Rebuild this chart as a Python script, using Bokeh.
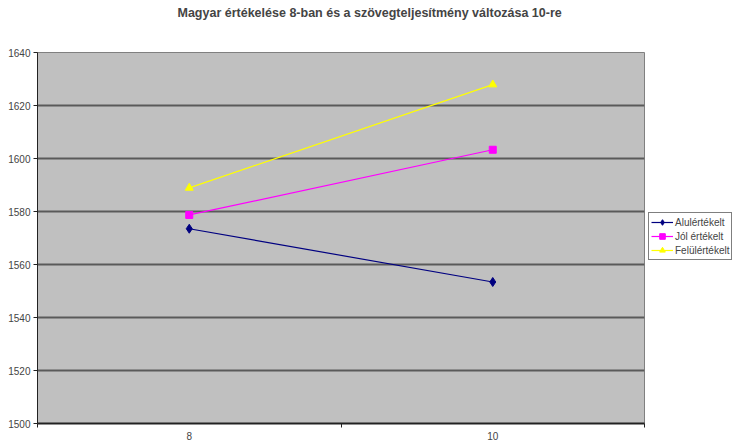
from bokeh.plotting import figure
from bokeh.models import FixedTicker, Legend, LegendItem, Range1d
from bokeh.embed import file_html
from bokeh.resources import INLINE

categories = ["8", "10"]
alul = [1573.5, 1553.4]
jol = [1578.7, 1603.3]
felul = [1588.9, 1627.9]
y_ticks = [1500, 1520, 1540, 1560, 1580, 1600, 1620, 1640]

xs = [i + 0.5 for i in range(len(categories))]

p = figure(frame_width=607, frame_height=371, output_backend="svg", toolbar_location=None,
           x_range=Range1d(0, len(categories)), y_range=Range1d(1500, 1640),
           min_border_left=37, min_border_right=0, min_border_top=52, min_border_bottom=18)
p.title.text = "Magyar értékelése 8-ban és a szövegteljesítmény változása 10-re\n\n"
p.title.align = "left"
p.title.text_font = "Liberation Sans"
p.title.text_font_size = "12.5px"
p.title.text_font_style = "bold"
p.title.text_line_height = 1.15
p.title.offset = 140
p.title.standoff = 0

p.background_fill_color = "#C0C0C0"
p.border_fill_color = "white"
p.outline_line_color = "#808080"
p.outline_line_width = 1

p.xgrid.visible = False
p.ygrid.ticker = FixedTicker(ticks=y_ticks)
p.ygrid.grid_line_color = "#5a5a5a"
p.ygrid.grid_line_width = 2

p.yaxis.ticker = FixedTicker(ticks=y_ticks)
p.yaxis.major_tick_out = 4
p.yaxis.major_tick_in = 0
p.yaxis.minor_tick_out = 0
p.yaxis.axis_line_color = "#222222"
p.yaxis.major_tick_line_color = "#222222"
p.yaxis.major_label_text_font = "Liberation Sans"
p.yaxis.major_label_text_font_size = "10px"
p.yaxis.major_label_standoff = 3

p.xaxis.ticker = FixedTicker(ticks=xs, minor_ticks=[0, 1, 2])
p.xaxis.major_label_overrides = {x: c for x, c in zip(xs, categories)}
p.xaxis.major_tick_out = 0
p.xaxis.major_tick_in = 0
p.xaxis.minor_tick_out = 4
p.xaxis.minor_tick_in = 0
p.xaxis.minor_tick_line_color = "#222222"
p.xaxis.axis_line_color = "#222222"
p.xaxis.axis_line_width = 2
p.xaxis.major_label_text_font = "Liberation Sans"
p.xaxis.major_label_text_font_size = "10px"
p.xaxis.major_label_standoff = 4

series = [
    ("Alulértékelt", alul, "#000080", "diamond", 9),
    ("Jól értékelt", jol, "#FF00FF", "square", 7),
    ("Felülértékelt", felul, "#FFFF00", "triangle", 8),
]
items = []
for name, vals, col, marker, size in series:
    l = p.line(xs, vals, line_color=col, line_width=1.2)
    s = p.scatter(xs, vals, marker=marker, size=size, fill_color=col, line_color=col)
    items.append(LegendItem(label=name, renderers=[l, s]))

legend = Legend(items=items, location=(4, 163))
legend.label_text_font = "Liberation Sans"
legend.label_text_font_size = "10px"
legend.border_line_color = "black"
legend.border_line_width = 1
legend.padding = 2
legend.spacing = 0
legend.margin = 0
legend.glyph_width = 22
legend.glyph_height = 14
legend.label_height = 14
legend.label_standoff = 2
legend.background_fill_color = "white"
p.add_layout(legend, "right")

open("out.html", "w").write(file_html(p, INLINE))
